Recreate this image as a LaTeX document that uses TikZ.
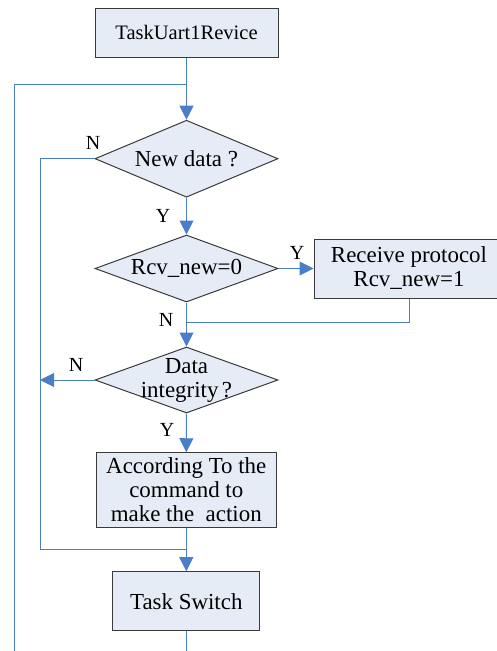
\documentclass[tikz,border=0pt]{standalone}
\usepackage{fontspec}
\setmainfont{Liberation Serif}
\usetikzlibrary{shapes.geometric,arrows.meta}
\definecolor{lineblue}{HTML}{4A7EC6}
\definecolor{boxfill}{HTML}{E6ECF6}
\definecolor{boxline}{HTML}{3A3A3A}
\begin{document}
\begin{tikzpicture}[x=0.75pt,y=-0.75pt,
  font=\fontsize{17.2}{18}\selectfont,
  procbox/.style={draw=boxline, fill=boxfill, line width=0.75pt, inner sep=0pt, align=center},
  decision/.style={diamond, draw=boxline, fill=boxfill, line width=0.75pt, inner sep=0pt},
  flow/.style={draw=lineblue, line width=0.75pt},
  arr/.style={flow, -{Triangle[width=10.5pt,length=10.5pt]}},
  yn/.style={inner sep=0pt, font=\fontsize{15}{18}\selectfont}]
\useasboundingbox (0,0) rectangle (497,651);

% nodes
\node[procbox, minimum width=183*0.75pt, minimum height=49*0.75pt,
      font=\fontsize{15.4}{18}\selectfont] (t) at (186.5,32.5) {TaskUart1Revice};
\node[decision, minimum width=183*0.75pt, minimum height=77*0.75pt,
      label={[name=d1t]center:New data\hspace{0.25em}?}] (d1) at (186.5,158.7) {};
\node[decision, minimum width=183*0.75pt, minimum height=67*0.75pt,
      label={[name=d2t]center:Rcv\_new=0}] (d2) at (186.5,268.5) {};
\node[procbox, minimum width=190*0.75pt, minimum height=59*0.75pt] (rcv) at (409,268.5)
      {Receive protocol\\Rcv\_new=1};
\node[decision, minimum width=183*0.75pt, minimum height=66*0.75pt,
      label={[name=d3t, align=center]center:Data\\integrity\hspace{0.15em}?}] (d3) at (186.5,380) {};
\node[procbox, minimum width=180*0.75pt, minimum height=74.5*0.75pt] (act) at (186.3,490)
      {According To the\\command to\\make the\ \ action};
\node[procbox, minimum width=147*0.75pt, minimum height=59.3*0.75pt] (sw) at (186.3,601.3)
      {Task Switch};

% coordinates for joins and free ends
\coordinate (j1) at (186.5,84);
\coordinate (lo1) at (14,84);
\coordinate (lo2) at (14,660);
\coordinate (ln1) at (40,158.7);
\coordinate (ln2) at (40,549);
\coordinate (j3) at (186.3,549);
\coordinate (r1) at (409,322);
\coordinate (j2) at (186.5,322);
\coordinate (ln3) at (40,380);
\coordinate (bot) at (186.3,660);

% connectors
\draw[arr] (t.south) -- (d1.north);
\draw[flow] (lo2) -- (lo1) -- (j1);
\draw[flow] (d1.west) -- (ln1) -- (ln2) -- (j3);
\draw[arr] (d1.south) -- (d2.north);
\draw[arr] (d2.east) -- (rcv.west);
\draw[flow] (rcv.south) -- (r1) -- (j2);
\draw[arr] (d2.south) -- (d3.north);
\draw[arr] (d3.west) -- (ln3);
\draw[arr] (d3.south) -- (act.north);
\draw[arr] (act.south) -- (sw.north);
\draw[flow] (sw.south) -- (bot);

% labels
\node[yn] (n1) at (93,143) {N};
\node[yn] (y1) at (163,216) {Y};
\node[yn] (y2) at (297,253) {Y};
\node[yn] (n2) at (166,320) {N};
\node[yn] (n3) at (76,365) {N};
\node[yn] (y3) at (167,430) {Y};
\end{tikzpicture}
\end{document}
